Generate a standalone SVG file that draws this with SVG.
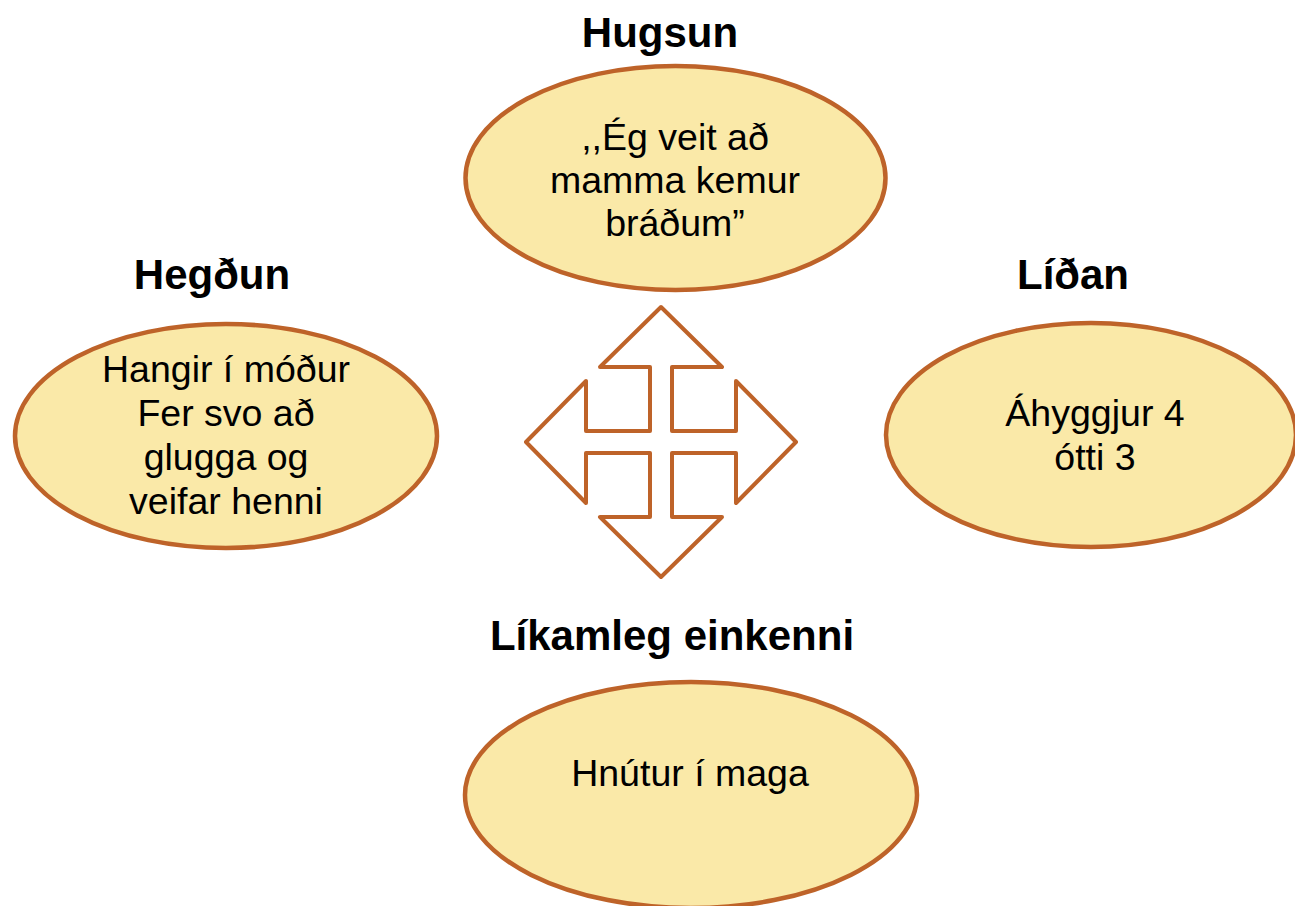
<svg xmlns="http://www.w3.org/2000/svg" width="1295" height="906" viewBox="0 0 1295 906">
  <style>
    .bubble { fill: #FAE9A8; stroke: #BE6329; stroke-width: 4.5; }
    .title { font-family: "Liberation Sans", Arial, sans-serif; font-weight: bold; font-size: 42px; fill: #000; text-anchor: middle; }
    .body { font-family: "Liberation Sans", Arial, sans-serif; font-size: 37.5px; fill: #000; text-anchor: middle; }
    .cross { fill: #FFFFFF; stroke: #BE6329; stroke-width: 4; stroke-linejoin: round; }
  </style>
  <rect width="1295" height="906" fill="#FFFFFF"/>

  <!-- four-way arrow in the middle -->
  <g id="connectors">
    <path class="cross" d="M661,307 L722,367 L672,367 L672,431 L736,431 L736,381 L796,442 L736,503 L736,453 L672,453 L672,517 L722,517 L661,577 L600,517 L650,517 L650,453 L586,453 L586,503 L526,442 L586,381 L586,431 L650,431 L650,367 L600,367 Z"/>
  </g>

  <g id="hugsun">
    <text class="title" x="660" y="47">Hugsun</text>
    <ellipse class="bubble" cx="675.5" cy="178" rx="210" ry="112"/>
    <text class="body" x="675" y="150">,,Ég veit að</text>
    <text class="body" x="675" y="193">mamma kemur</text>
    <text class="body" x="675" y="236">bráðum”</text>
  </g>

  <g id="hegdun">
    <text class="title" x="212" y="289">Hegðun</text>
    <ellipse class="bubble" cx="226" cy="436" rx="211" ry="112"/>
    <text class="body" x="226" y="382">Hangir í móður</text>
    <text class="body" x="226" y="426">Fer svo að</text>
    <text class="body" x="226" y="470">glugga og</text>
    <text class="body" x="226" y="514">veifar henni</text>
  </g>

  <g id="lidan">
    <text class="title" x="1073" y="289">Líðan</text>
    <ellipse class="bubble" cx="1091" cy="435" rx="205" ry="112"/>
    <text class="body" x="1095" y="426">Áhyggjur 4</text>
    <text class="body" x="1095" y="470">ótti 3</text>
  </g>

  <g id="likamleg">
    <text class="title" x="672" y="650">Líkamleg einkenni</text>
    <ellipse class="bubble" cx="691" cy="795" rx="226" ry="113"/>
    <text class="body" x="690" y="786">Hnútur í maga</text>
  </g>
</svg>
